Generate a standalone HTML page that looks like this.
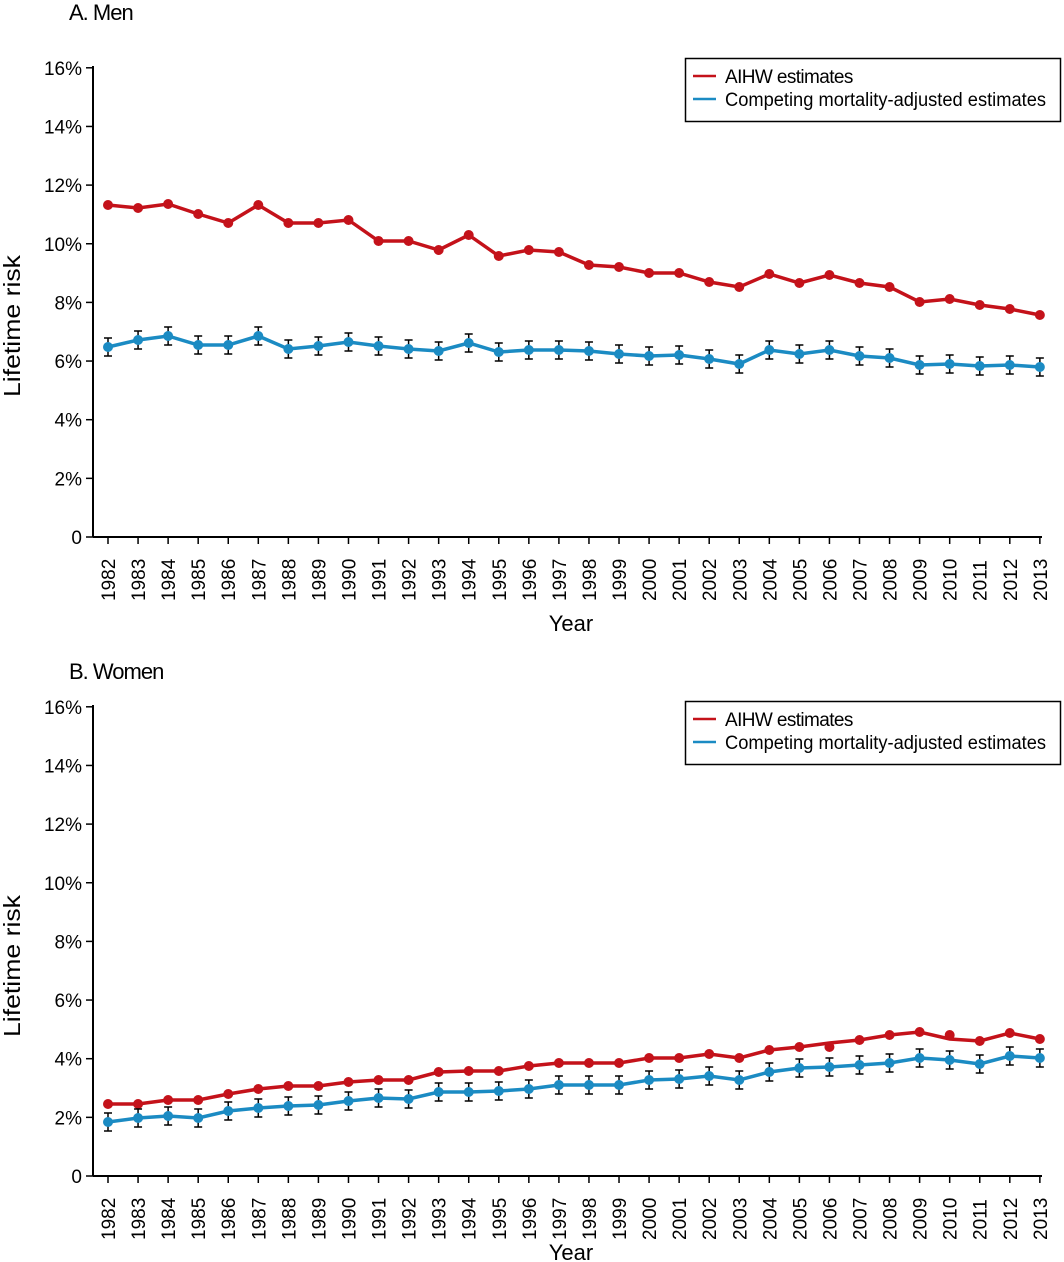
<!DOCTYPE html>
<html><head><meta charset="utf-8"><style>
html,body{margin:0;padding:0;background:#fff;}
svg{display:block;font-family:"Liberation Sans",sans-serif;}
</style></head><body>
<svg id="s" width="1064" height="1262" xmlns="http://www.w3.org/2000/svg"></svg>
<script>
const s=document.getElementById('s');let h='';
const X=i=>108+i*30.06;
const RED='#c4121a',BLUE='#1b8bc3';
function panel(off,title,red,blue,redDots,ty,yy,ly2){
  const Y0=537+off,step=58.65;
  h+=`<text x="69" y="${ty}" font-size="22" letter-spacing="-1">${title}</text>`;
  h+=`<line x1="93" y1="${66+off}" x2="93" y2="${Y0}" stroke="#000" stroke-width="2"/>`;
  for(let k=0;k<=8;k++){const y=Y0-k*step;
    h+=`<line x1="86" y1="${y}" x2="93" y2="${y}" stroke="#000" stroke-width="1.5"/>`;
    h+=`<text x="82" y="${y+7}" font-size="19" text-anchor="end">${k?2*k+'%':'0'}</text>`;}
  h+=`<line x1="93" y1="${Y0}" x2="1042" y2="${Y0}" stroke="#000" stroke-width="2"/>`;
  for(let i=0;i<32;i++){const x=X(i);
    h+=`<line x1="${x}" y1="${Y0}" x2="${x}" y2="${Y0+7}" stroke="#000" stroke-width="1.5"/>`;
    h+=`<text transform="translate(${x+7},${Y0+64}) rotate(-90)" font-size="19">${1982+i}</text>`;}
  h+=`<text x="571" y="${yy}" font-size="22" text-anchor="middle">Year</text>`;
  h+=`<text transform="translate(20,${ly2+71}) rotate(-90)" font-size="23" textLength="142" lengthAdjust="spacingAndGlyphs">Lifetime risk</text>`;
  h+=`<polyline fill="none" stroke="${RED}" stroke-width="3.5" points="${red.map((y,i)=>X(i)+','+(y+off)).join(' ')}"/>`;
  (redDots||red).forEach((y,i)=>h+=`<circle cx="${X(i)}" cy="${y+off}" r="5" fill="${RED}"/>`);
  blue.forEach((y,i)=>{const x=X(i),yy=y+off;
    h+=`<path d="M${x},${yy-9}V${yy+9}M${x-4},${yy-9}H${x+4}M${x-4},${yy+9}H${x+4}" stroke="#000" stroke-width="1.5"/>`;});
  h+=`<polyline fill="none" stroke="${BLUE}" stroke-width="3.5" points="${blue.map((y,i)=>X(i)+','+(y+off)).join(' ')}"/>`;
  blue.forEach((y,i)=>h+=`<circle cx="${X(i)}" cy="${y+off}" r="5" fill="${BLUE}"/>`);
  const ly=(off?701:58);
  h+=`<rect x="685.5" y="${ly+.5}" width="375" height="63" fill="#fff" stroke="#000" stroke-width="1.5"/>`;
  h+=`<line x1="693" y1="${ly+18}" x2="716" y2="${ly+18}" stroke="${RED}" stroke-width="2.5"/>`;
  h+=`<text x="725" y="${ly+25}" font-size="19" letter-spacing="-0.6">AIHW estimates</text>`;
  h+=`<line x1="693" y1="${ly+41}" x2="716" y2="${ly+41}" stroke="${BLUE}" stroke-width="2.5"/>`;
  h+=`<text x="725" y="${ly+48}" font-size="19" textLength="321" lengthAdjust="spacingAndGlyphs">Competing mortality-adjusted estimates</text>`;
}
panel(0,'A. Men',
[205,208,204,214,223,205,223,223,220,241,241,250,235,256,250,252,265,267,273,273,282,287,274,283,275,283,287,302,299,305,309,315],
[347,340,336,345,345,336,349,346,342,346,349,351,343,352,350,350,351,354,356,355,359,364,350,354,350,356,358,365,364,366,365,367],null,20,631,326);
const rb=[1104,1104,1100,1100,1094,1089,1086,1086,1082,1080,1080,1072,1071,1071,1066,1063,1063,1063,1058,1058,1054,1058,1050,1047,1043,1040,1035,1032,1039,1041,1033,1039];
const rd=rb.slice();rd[24]=1047;rd[28]=1035;
panel(639,'B. Women',rb.map(y=>y-639),
[1122,1118,1116,1118,1111,1108,1106,1105,1101,1098,1099,1092,1092,1091,1089,1085,1085,1085,1080,1079,1076,1080,1072,1068,1067,1065,1063,1058,1060,1064,1056,1058].map(y=>y-639),
rd.map(y=>y-639),679,1260,966);
s.innerHTML=h;
</script>
</body></html>
